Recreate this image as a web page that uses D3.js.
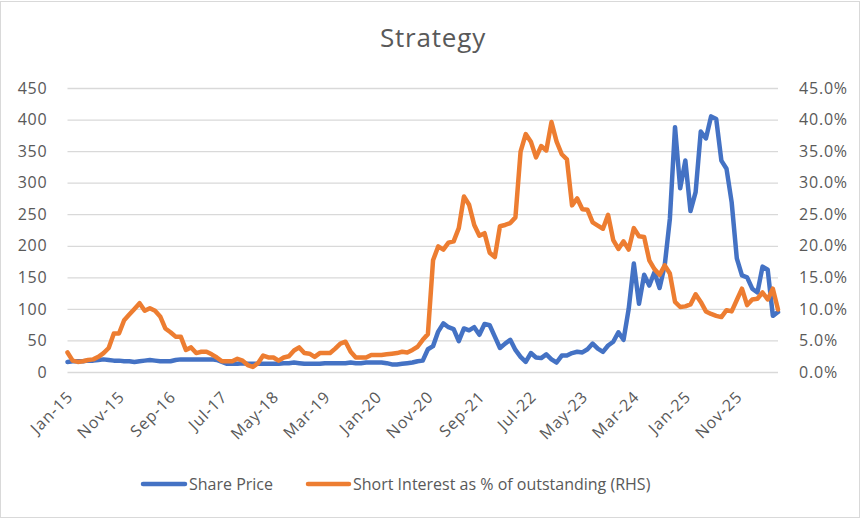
<!DOCTYPE html>
<html>
<head>
<meta charset="utf-8">
<script src="https://cdn.jsdelivr.net/npm/d3@7"></script>
<style>
  html, body { margin: 0; padding: 0; background: #fff; }
  svg { display: block; }
  text { font-family: "Open Sans", "Noto Sans", sans-serif; fill: #595959; }
</style>
</head>
<body>
<svg id="chart" width="861" height="519"></svg>
<script>
// ---- data (monthly, Jan-15 .. Jul-26) ----
const startMonth = new Date(2015, 0, 1);
const endMonth = new Date(2026, 7, 1);
const months = d3.timeMonth.range(startMonth, endMonth);
const fmt = d3.timeFormat("%b-%y");
const categories = months.map(fmt);

const sharePrice = [
  16,17,17,17,18,18,19,20,19,18,
  18,17,17,16,17,18,19,18,17,17,
  17,19,20,20,20,20,20,20,20,19,
  16,13,13,13,14,13,13,13,13,13,
  13,13,14,14,15,14,13,13,13,13,
  14,14,14,14,14,15,14,14,15,15,
  15,15,14,12,12,13,14,15,17,18,
  36,41,64,77,71,68,49,69,66,71,
  59,76,74,56,38,45,51,35,24,16,
  30,23,22,28,20,15,26,26,30,32,
  31,36,45,37,32,42,48,63,51,100,
  172,108,154,137,158,133,169,243,388,291,
  335,255,285,381,370,405,401,335,322,269,
  180,153,150,132,126,167,162,89,95
];

// Short interest as % of outstanding (RHS), in percent
const shortInterest = [
  3.1,1.8,1.6,1.7,1.9,2.0,2.4,3.0,3.8,6.1,
  6.1,8.2,9.1,10.0,10.9,9.7,10.1,9.7,8.8,6.9,
  6.3,5.6,5.6,3.5,3.9,3.0,3.2,3.2,2.8,2.3,
  1.7,1.7,1.7,2.1,1.8,1.1,0.8,1.4,2.6,2.3,
  2.3,1.8,2.3,2.5,3.4,3.9,3.0,2.9,2.4,3.0,
  3.0,3.0,3.7,4.5,4.8,3.2,2.3,2.3,2.3,2.7,
  2.7,2.7,2.8,2.9,3.0,3.2,3.1,3.5,4.0,5.1,
  6.0,17.7,19.9,19.4,20.5,20.7,22.8,27.8,26.5,23.3,
  21.6,22.0,18.9,18.2,23.1,23.3,23.6,24.5,34.9,37.7,
  36.5,34.0,35.8,35.1,39.6,36.5,34.5,33.7,26.4,27.5,
  25.8,25.7,23.7,23.2,22.7,24.9,20.9,19.5,20.7,19.4,
  22.8,21.5,21.4,17.7,16.3,15.4,16.9,15.6,11.1,10.3,
  10.4,10.7,12.3,11.1,9.6,9.2,8.9,8.7,9.8,9.6,
  11.4,13.2,10.6,11.5,11.6,12.6,11.5,13.2,9.9
];

const leftTicks = [0,50,100,150,200,250,300,350,400,450];
const rightTicks = [0,5,10,15,20,25,30,35,40,45];
const xTickLabels = ["Jan-15","Nov-15","Sep-16","Jul-17","May-18","Mar-19","Jan-20",
                     "Nov-20","Sep-21","Jul-22","May-23","Mar-24","Jan-25","Nov-25"];
const seriesNames = ["Share Price", "Short Interest as % of outstanding (RHS)"];
const colors = ["#4472C4", "#ED7D31"];
const titleText = "Strategy";

// ---- layout ----
const W = 861, H = 519;
const plot = { left: 67.5, right: 778, top: 88, bottom: 372 };

const svg = d3.select("#chart");

// chart border
svg.append("rect")
  .attr("x", 0.5).attr("y", 1.5).attr("width", 859).attr("height", 516)
  .attr("fill", "#fff").attr("stroke", "#d9d9d9").attr("stroke-width", 1);

// scales
const x = d3.scalePoint().domain(categories).range([plot.left, plot.right]);
const yL = d3.scaleLinear().domain([0, 450]).range([plot.bottom, plot.top]);
const yR = d3.scaleLinear().domain([0, 45]).range([plot.bottom, plot.top]);

// gridlines
const grid = svg.append("g")
  .attr("transform", `translate(${plot.left},0)`)
  .call(d3.axisLeft(yL).tickValues(leftTicks).tickSize(-(plot.right - plot.left)).tickFormat(""));
grid.select(".domain").remove();
grid.selectAll(".tick line").attr("stroke", "#d9d9d9").attr("stroke-width", 1.3);

// left axis labels
const axL = svg.append("g")
  .attr("transform", `translate(${plot.left},0)`)
  .call(d3.axisLeft(yL).tickValues(leftTicks).tickSize(0).tickPadding(20));
axL.select(".domain").remove();
axL.selectAll("text").style("font-size", "16px").attr("fill", "#595959")
  .style("letter-spacing", "0.8px");

// right axis labels
const axR = svg.append("g")
  .attr("transform", `translate(${plot.right},0)`)
  .call(d3.axisRight(yR).tickValues(rightTicks).tickSize(0).tickPadding(21)
    .tickFormat(d => d.toFixed(1) + "%"));
axR.select(".domain").remove();
axR.selectAll("text").style("font-size", "16px").attr("fill", "#595959")
  .style("letter-spacing", "0.8px");

// bottom axis (rotated labels)
const tickCats = categories.filter(c => xTickLabels.includes(c));
const axB = svg.append("g")
  .attr("transform", `translate(0,${plot.bottom})`)
  .call(d3.axisBottom(x).tickValues(tickCats).tickSize(0));
axB.select(".domain").remove();
axB.selectAll(".tick text")
  .style("font-size", "16px").attr("fill", "#595959")
  .style("letter-spacing", "0.9px")
  .attr("text-anchor", "end")
  .attr("dy", null)
  .attr("y", 0)
  .attr("transform", "translate(6,26) rotate(-45)");

// lines
const lineL = d3.line().x((d, i) => x(categories[i])).y(d => yL(d));
const lineR = d3.line().x((d, i) => x(categories[i])).y(d => yR(d));

svg.append("path").datum(sharePrice)
  .attr("d", lineL).attr("fill", "none")
  .attr("stroke", colors[0]).attr("stroke-width", 4.5)
  .attr("stroke-linejoin", "round").attr("stroke-linecap", "round");

svg.append("path").datum(shortInterest)
  .attr("d", lineR).attr("fill", "none")
  .attr("stroke", colors[1]).attr("stroke-width", 4.5)
  .attr("stroke-linejoin", "round").attr("stroke-linecap", "round");

// title
svg.append("text")
  .attr("x", 433).attr("y", 47)
  .attr("text-anchor", "middle")
  .style("font-size", "26px")
  .style("letter-spacing", "0.8px")
  .text(titleText);

// legend
const legendItems = [
  { name: seriesNames[0], color: colors[0], x1: 143, x2: 185 },
  { name: seriesNames[1], color: colors[1], x1: 308, x2: 349 }
];
const lg = svg.append("g");
legendItems.forEach(it => {
  lg.append("line")
    .attr("x1", it.x1).attr("x2", it.x2).attr("y1", 484).attr("y2", 484)
    .attr("stroke", it.color).attr("stroke-width", 4.5).attr("stroke-linecap", "round");
  lg.append("text")
    .attr("x", it.x2 + 4).attr("y", 490)
    .style("font-size", "16px")
    .text(it.name);
});
</script>
</body>
</html>
